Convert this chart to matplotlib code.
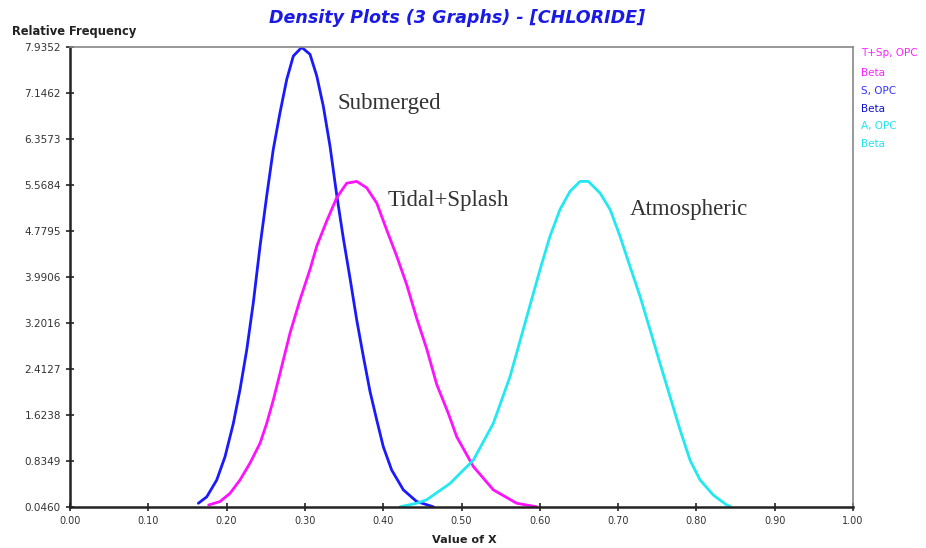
import matplotlib
matplotlib.use("Agg")
import matplotlib.pyplot as plt

# --------------------------------------------------
# 	data
# --------------------------------------------------
sub_x = [0.1639, 0.1746, 0.1874, 0.1980, 0.2086, 0.2171, 0.2257, 0.2341, 0.2427,
         0.2512, 0.2596, 0.2682, 0.2768, 0.2852, 0.2959, 0.3065, 0.3151, 0.3235,
         0.3321, 0.3406, 0.3490, 0.3576, 0.3661, 0.3746, 0.3831, 0.3917, 0.4001,
         0.4108, 0.4257, 0.4427, 0.4640]
sub_y = [0.11, 0.22, 0.51, 0.91, 1.48, 2.06, 2.74, 3.55, 4.52,
         5.38, 6.18, 6.81, 7.38, 7.78, 7.93, 7.81, 7.44, 6.92,
         6.23, 5.40, 4.66, 3.97, 3.26, 2.63, 2.03, 1.54, 1.08,
         0.68, 0.34, 0.14, 0.05]

tid_x = [0.1770, 0.1916, 0.2043, 0.2171, 0.2299, 0.2427, 0.2512, 0.2596, 0.2682,
         0.2810, 0.2937, 0.3065, 0.3151, 0.3278, 0.3406, 0.3534, 0.3662, 0.3789,
         0.3917, 0.4044, 0.4172, 0.4300, 0.4428, 0.4555, 0.4683, 0.4832, 0.4939,
         0.5151, 0.5406, 0.5705, 0.5960]
tid_y = [0.08, 0.14, 0.28, 0.51, 0.80, 1.14, 1.48, 1.88, 2.34,
         3.03, 3.60, 4.12, 4.52, 4.95, 5.35, 5.60, 5.63, 5.52,
         5.26, 4.80, 4.35, 3.86, 3.28, 2.76, 2.15, 1.65, 1.25,
         0.74, 0.34, 0.11, 0.05]

atm_x = [0.4215, 0.4427, 0.4555, 0.4853, 0.5151, 0.5406, 0.5619, 0.5832, 0.6003,
         0.6130, 0.6258, 0.6386, 0.6513, 0.6620, 0.6769, 0.6897, 0.7024, 0.7152,
         0.7280, 0.7407, 0.7535, 0.7663, 0.7791, 0.7918, 0.8046, 0.8216, 0.8387, 0.8430]
atm_y = [0.05, 0.11, 0.17, 0.45, 0.85, 1.48, 2.28, 3.30, 4.12,
         4.69, 5.15, 5.46, 5.63, 5.63, 5.43, 5.15, 4.69, 4.17,
         3.66, 3.09, 2.51, 1.94, 1.37, 0.85, 0.51, 0.25, 0.08, 0.06]

xticks = [0.0, 0.1, 0.2, 0.3, 0.4, 0.5, 0.6, 0.7, 0.8, 0.9, 1.0]
yticks = [0.0460, 0.8349, 1.6238, 2.4127, 3.2016, 3.9906,
          4.7795, 5.5684, 6.3573, 7.1462, 7.9352]

legend_lines = [("T+Sp, OPC", "#ff22ff"), ("Beta", "#ff22ff"),
                ("S, OPC", "#3333ff"), ("Beta", "#1111cc"),
                ("A, OPC", "#22e6f0"), ("Beta", "#22e6f0")]
legend_ypix = [53, 73, 91, 109, 126, 144]

# --------------------------------------------------
# 	figure
# --------------------------------------------------
fig = plt.figure(figsize=(9.26, 5.48), dpi=100)
ax = fig.add_axes([0.0756, 0.0748, 0.8456, 0.8394])

for xs, ys, col in [(sub_x, sub_y, "#1a1aff"), (tid_x, tid_y, "#ff11ff"),
                    (atm_x, atm_y, "#22e8f2")]:
	ax.plot(xs, ys, color=col, lw=2.0, solid_joinstyle="round", solid_capstyle="round")

ax.set_xlim(0, 1)
ax.set_ylim(yticks[0], yticks[-1])
ax.set_xticks(xticks)
ax.set_xticklabels(["%.2f" % v for v in xticks])
ax.set_yticks(yticks)
ax.set_yticklabels(["%.4f" % v for v in yticks])
ax.tick_params(direction="inout", length=6, width=1.2, labelsize=7,
               labelcolor="#333333", color="#222222")
ax.tick_params(axis="y", labelsize=7.5)

for side in ("left", "bottom"):
	ax.spines[side].set_linewidth(1.8)
	ax.spines[side].set_color("#222222")
for side in ("top", "right"):
	ax.spines[side].set_linewidth(1.2)
	ax.spines[side].set_color("#888888")

# curve labels
serif = "Liberation Serif"
ax.text(0.342, 6.96, "Submerged", family=serif, fontsize=16.5, color="#333333", va="center")
ax.text(0.405, 5.31, "Tidal+Splash", family=serif, fontsize=16.5, color="#333333", va="center")
ax.text(0.715, 5.14, "Atmospheric", family=serif, fontsize=16.5, color="#333333", va="center")

# titles
fig.text(0.4935, 0.968, "Density Plots (3 Graphs) - [CHLORIDE]", color="#1a1ae6",
         fontsize=12.6, fontweight="bold", style="italic", ha="center", va="center")
fig.text(0.013, 0.942, "Relative Frequency", fontsize=8.3, fontweight="bold",
         color="#222222", va="center")
fig.text(0.501, 0.0146, "Value of X", fontsize=8.1, fontweight="bold",
         color="#222222", ha="center", va="center")

# legend texts on the right
for (txt, col), yp in zip(legend_lines, legend_ypix):
	fig.text(0.930, 1 - yp / 548.0, txt, fontsize=7.5, color=col, va="center")

plt.savefig("out.png", dpi=100)
